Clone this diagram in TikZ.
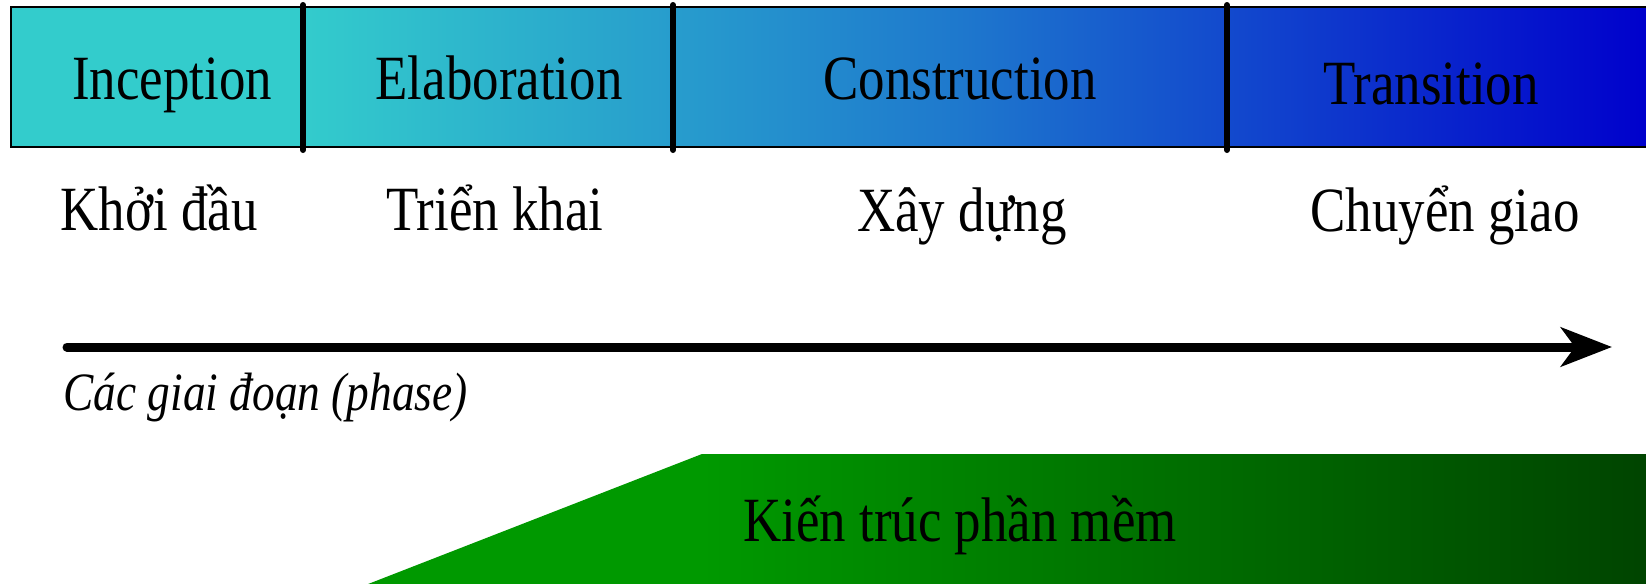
\documentclass[tikz,border=0pt]{standalone}
\usepackage{fontspec}
\setmainfont{Liberation Serif}[FakeStretch=0.84]
\usetikzlibrary{arrows.meta}
\definecolor{cyanA}{RGB}{51,204,204}
\definecolor{midA}{RGB}{30,120,205}
\definecolor{blueA}{RGB}{0,0,204}
\definecolor{greenA}{RGB}{0,153,0}
\definecolor{greenB}{RGB}{0,68,0}
\tikzset{
  lbl/.style={inner sep=0pt, anchor=base, font=\fontsize{31.5}{36}\selectfont},
  ilbl/.style={inner sep=0pt, anchor=base west, font=\fontsize{27}{32}\selectfont\itshape},
  divider/.style={line width=3pt, line cap=round},
  timeline/.style={line width=4.5pt, line cap=round, -{Stealth[length=25.5pt,width=19.5pt,inset=7pt]}}
}
\begin{document}
\begin{tikzpicture}[x=0.5pt,y=-0.5pt]
\useasboundingbox (0,0) rectangle (1646,584);
% phase bar
\fill[cyanA] (11,7) rectangle (301,147);
\shade[left color=cyanA, right color=midA] (300,7) rectangle (961,147);
\shade[left color=midA, right color=blueA] (960,7) rectangle (1650,147);
\draw[line width=0.75pt] (1650,7) -- (11,7) -- (11,147) -- (1650,147);
\draw[divider] (303,5) -- (303,150);
\draw[divider] (673,5) -- (673,150);
\draw[divider] (1227,5) -- (1227,150);
% phase names
\node[lbl] (inc) at (172,99) {Inception};
\node[lbl] (ela) at (499,99) {Elaboration};
\node[lbl] (con) at (960,99) {Construction};
\node[lbl] (tra) at (1431,104) {Transition};
% vietnamese names
\node[lbl] (kd) at (159,230) {Khởi đầu};
\node[lbl] (tk) at (495,230) {Triển khai};
\node[lbl] (xd) at (962,231) {Xây dựng};
\node[lbl] (cg) at (1445,231) {Chuyển giao};
% timeline arrow
\coordinate (tail) at (67,347);
\coordinate (head) at (1612,347);
\draw[timeline] (tail) -- (head);
\node[ilbl] (phase) at (63,410) {Các giai đoạn (phase)};
% architecture band
\begin{scope}
\clip (363,586) -- (702,454) -- (1650,454) -- (1650,586) -- cycle;
\fill[greenA] (340,450) rectangle (703,590);
\shade[left color=greenA, right color=greenB] (702,450) rectangle (1650,590);
\end{scope}
\node[lbl] (arch) at (960,541) {Kiến trúc phần mềm};
\end{tikzpicture}
\end{document}
